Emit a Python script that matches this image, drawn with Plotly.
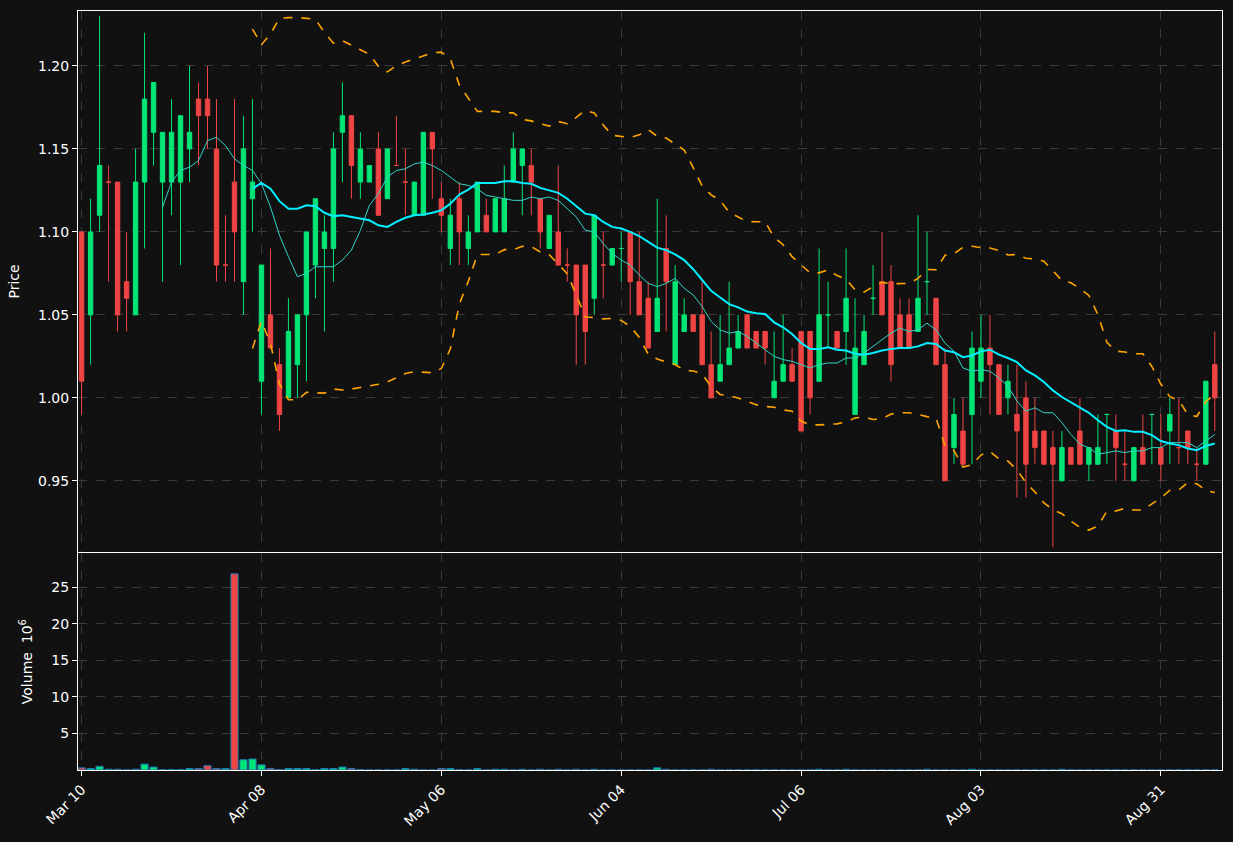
import pandas as pd
import plotly.graph_objects as go
from plotly.subplots import make_subplots

opens = [1.10, 1.05, 1.11, 1.13, 1.13, 1.07, 1.05, 1.13, 1.16, 1.13,
         1.13, 1.13, 1.15, 1.18, 1.18, 1.15, 1.08, 1.13, 1.07, 1.12,
         1.01, 1.05, 1.02, 1.00, 1.02, 1.05, 1.08, 1.09, 1.09, 1.16,
         1.17, 1.13, 1.13, 1.15, 1.12, 1.14, 1.13, 1.11, 1.11, 1.16,
         1.12, 1.09, 1.12, 1.09, 1.10, 1.11, 1.10, 1.10, 1.13, 1.14,
         1.14, 1.12, 1.09, 1.10, 1.08, 1.08, 1.08, 1.06, 1.08, 1.08,
         1.09, 1.10, 1.07, 1.06, 1.04, 1.09, 1.02, 1.04, 1.05, 1.05,
         1.02, 1.01, 1.02, 1.03, 1.05, 1.04, 1.04, 1.00, 1.01, 1.02,
         1.04, 1.04, 1.01, 1.05, 1.04, 1.04, 0.99, 1.02, 1.06, 1.07,
         1.07, 1.05, 1.05, 1.04, 1.07, 1.06, 1.02, 0.97, 0.98, 0.99,
         1.01, 1.03, 1.02, 1.00, 0.99, 1.00, 0.98, 0.98, 0.97, 0.95,
         0.97, 0.98, 0.96, 0.96, 0.99, 0.98, 0.96, 0.95, 0.97, 0.99,
         0.97, 0.98, 0.97, 0.98, 0.96, 0.96, 1.02]
highs = [1.10, 1.12, 1.23, 1.14, 1.13, 1.10, 1.15, 1.22, 1.19, 1.16,
         1.18, 1.17, 1.20, 1.19, 1.20, 1.18, 1.11, 1.18, 1.17, 1.18,
         1.08, 1.09, 1.03, 1.06, 1.05, 1.10, 1.12, 1.11, 1.16, 1.19,
         1.17, 1.16, 1.14, 1.16, 1.15, 1.17, 1.15, 1.13, 1.16, 1.16,
         1.13, 1.12, 1.13, 1.11, 1.13, 1.12, 1.12, 1.14, 1.16, 1.15,
         1.15, 1.12, 1.11, 1.14, 1.09, 1.08, 1.08, 1.11, 1.10, 1.09,
         1.10, 1.10, 1.10, 1.07, 1.12, 1.11, 1.08, 1.06, 1.05, 1.07,
         1.04, 1.05, 1.07, 1.05, 1.05, 1.04, 1.04, 1.04, 1.05, 1.03,
         1.04, 1.04, 1.09, 1.07, 1.04, 1.09, 1.06, 1.05, 1.08, 1.10,
         1.08, 1.06, 1.06, 1.11, 1.10, 1.06, 1.03, 1.00, 1.00, 1.04,
         1.05, 1.05, 1.02, 1.02, 1.02, 1.01, 1.00, 0.98, 0.98, 0.98,
         0.97, 1.00, 0.97, 0.99, 0.99, 0.99, 0.98, 0.97, 0.99, 0.99,
         0.99, 1.00, 1.00, 0.98, 0.97, 1.01, 1.04]
lows = [0.99, 1.02, 1.10, 1.07, 1.04, 1.04, 1.05, 1.09, 1.14, 1.07,
        1.11, 1.08, 1.13, 1.14, 1.15, 1.07, 1.07, 1.07, 1.05, 1.10,
        0.99, 1.03, 0.98, 1.00, 1.00, 1.01, 1.06, 1.04, 1.07, 1.13,
        1.12, 1.12, 1.13, 1.11, 1.12, 1.14, 1.11, 1.11, 1.11, 1.12,
        1.10, 1.08, 1.08, 1.08, 1.10, 1.10, 1.10, 1.10, 1.13, 1.11,
        1.11, 1.09, 1.09, 1.08, 1.07, 1.02, 1.02, 1.05, 1.06, 1.08,
        1.07, 1.05, 1.05, 1.03, 1.04, 1.04, 1.02, 1.04, 1.04, 1.02,
        1.00, 1.01, 1.02, 1.03, 1.03, 1.03, 1.02, 1.00, 1.01, 1.01,
        0.98, 0.99, 1.01, 1.03, 1.03, 1.02, 0.99, 1.02, 1.05, 1.05,
        1.01, 1.03, 1.03, 1.04, 1.05, 1.02, 0.95, 0.96, 0.96, 0.96,
        1.00, 0.99, 0.99, 0.99, 0.94, 0.94, 0.96, 0.96, 0.91, 0.95,
        0.96, 0.96, 0.95, 0.96, 0.96, 0.95, 0.95, 0.95, 0.96, 0.96,
        0.95, 0.96, 0.96, 0.96, 0.95, 0.96, 0.98]
closes = [1.01, 1.10, 1.14, 1.13, 1.05, 1.06, 1.13, 1.18, 1.19, 1.16,
          1.16, 1.17, 1.16, 1.17, 1.17, 1.08, 1.08, 1.10, 1.15, 1.13,
          1.08, 1.03, 0.99, 1.04, 1.05, 1.10, 1.12, 1.10, 1.15, 1.17,
          1.14, 1.15, 1.14, 1.11, 1.15, 1.14, 1.13, 1.13, 1.16, 1.15,
          1.11, 1.11, 1.10, 1.10, 1.13, 1.10, 1.12, 1.12, 1.15, 1.15,
          1.13, 1.10, 1.11, 1.08, 1.08, 1.05, 1.04, 1.11, 1.08, 1.09,
          1.09, 1.07, 1.05, 1.03, 1.06, 1.07, 1.07, 1.05, 1.04, 1.02,
          1.00, 1.02, 1.03, 1.04, 1.03, 1.03, 1.03, 1.01, 1.02, 1.01,
          0.98, 1.00, 1.05, 1.05, 1.03, 1.06, 1.03, 1.04, 1.06, 1.05,
          1.02, 1.03, 1.03, 1.06, 1.07, 1.02, 0.95, 0.99, 0.96, 1.03,
          1.03, 1.02, 0.99, 1.01, 0.98, 0.96, 0.97, 0.96, 0.96, 0.97,
          0.96, 0.96, 0.97, 0.97, 0.99, 0.97, 0.96, 0.97, 0.96, 0.99,
          0.96, 0.99, 0.97, 0.97, 0.96, 1.01, 1.00]
volumes = [0.3, 0.2, 0.5, 0.1, 0.1, 0.0, 0.1, 0.8, 0.4, 0.05,
           0.05, 0.05, 0.2, 0.2, 0.6, 0.2, 0.2, 26.8, 1.4, 1.5,
           0.7, 0.2, 0.05, 0.2, 0.2, 0.2, 0.05, 0.2, 0.2, 0.4,
           0.2, 0.05, 0.0, 0.0, 0.0, 0.0, 0.2, 0.1, 0.0, 0.0,
           0.2, 0.2, 0.05, 0.0, 0.2, 0.0, 0.1, 0.1, 0.0, 0.1,
           0.0, 0.1, 0.0, 0.1, 0.0, 0.1, 0.0, 0.1, 0.0, 0.0,
           0.0, 0.0, 0.0, 0.0, 0.3, 0.1, 0.0, 0.0, 0.0, 0.0,
           0.1, 0.0, 0.0, 0.0, 0.0, 0.0, 0.0, 0.0, 0.0, 0.0,
           0.0, 0.0, 0.1, 0.0, 0.0, 0.1, 0.0, 0.0, 0.0, 0.0,
           0.0, 0.0, 0.0, 0.0, 0.1, 0.0, 0.0, 0.0, 0.0, 0.1,
           0.0, 0.0, 0.0, 0.0, 0.0, 0.0, 0.0, 0.0, 0.0, 0.1,
           0.0, 0.0, 0.0, 0.0, 0.0, 0.0, 0.0, 0.0, 0.0, 0.0,
           0.0, 0.0, 0.0, 0.0, 0.0, 0.0, 0.0]
tick_labels = ["Mar 10", "Apr 08", "May 06", "Jun 04", "Jul 06", "Aug 03", "Aug 31"]

UP = "#00e676"
DOWN = "#ef4444"
BG = "#111111"

df = pd.DataFrame({"open": opens, "high": highs, "low": lows,
                   "close": closes, "volume": volumes})
df["i"] = range(len(df))
df["ma10"] = df["close"].rolling(10).mean()
df["ma20"] = df["close"].rolling(20).mean()
std20 = df["close"].rolling(20).std(ddof=0)
df["upper"] = df["ma20"] + 2 * std20
df["lower"] = df["ma20"] - 2 * std20

fig = make_subplots(rows=2, cols=1, shared_xaxes=True, vertical_spacing=0.002,
                    row_heights=[0.714, 0.286])

fig.add_trace(go.Candlestick(
    x=df["i"], open=df["open"], high=df["high"], low=df["low"], close=df["close"],
    increasing=dict(line=dict(color=UP, width=1), fillcolor=UP),
    decreasing=dict(line=dict(color=DOWN, width=1), fillcolor=DOWN),
    whiskerwidth=0, showlegend=False), row=1, col=1)

# moving averages and bollinger bands
fig.add_trace(go.Scatter(x=df["i"], y=df["ma10"], mode="lines",
                         line=dict(color="#30d5c8", width=1), showlegend=False), row=1, col=1)
fig.add_trace(go.Scatter(x=df["i"], y=df["ma20"], mode="lines",
                         line=dict(color="#00f0ff", width=2), showlegend=False), row=1, col=1)
for col in ["upper", "lower"]:
    fig.add_trace(go.Scatter(x=df["i"], y=df[col], mode="lines",
                             line=dict(color="#ffa500", width=1.6, dash="dash"),
                             showlegend=False), row=1, col=1)

vol_colors = [UP if c >= o else DOWN for o, c in zip(opens, closes)]
fig.add_trace(go.Bar(x=df["i"], y=df["volume"], marker=dict(
    color=vol_colors, line=dict(color="#1f77b4", width=1)),
    width=0.8, showlegend=False), row=2, col=1)

grid = dict(showgrid=True, gridcolor="#3a3a3a", griddash="dash", gridwidth=1,
            showline=True, linecolor="white", linewidth=1, mirror=True,
            zeroline=False, tickfont=dict(color="white", size=14),
            ticks="outside", tickcolor="white")

fig.update_xaxes(range=[-0.4, 126.8], tickvals=[0, 20, 40, 60, 80, 100, 120],
                 rangeslider_visible=False, **grid)
fig.update_xaxes(ticktext=tick_labels, tickangle=-45, row=2, col=1)
fig.update_yaxes(range=[0.9072, 1.2331], tickvals=[0.95, 1.0, 1.05, 1.10, 1.15, 1.20],
                 tickformat=".2f", title=dict(text="Price", font=dict(color="white", size=14)),
                 row=1, col=1, **grid)
fig.update_yaxes(range=[0, 29.6], tickvals=[5, 10, 15, 20, 25],
                 title=dict(text="Volume  10<sup>6</sup>", font=dict(color="white", size=14)),
                 row=2, col=1, **grid)

fig.update_layout(width=1233, height=842, paper_bgcolor=BG, plot_bgcolor=BG,
                  margin=dict(l=78, r=11, t=11, b=72), bargap=0.2,
                  font=dict(family="DejaVu Sans", color="white"))

fig.write_html("out.html", config={"displayModeBar": False},
               post_script="document.body.style.margin='0';"
               "document.body.style.background='#111111';")
